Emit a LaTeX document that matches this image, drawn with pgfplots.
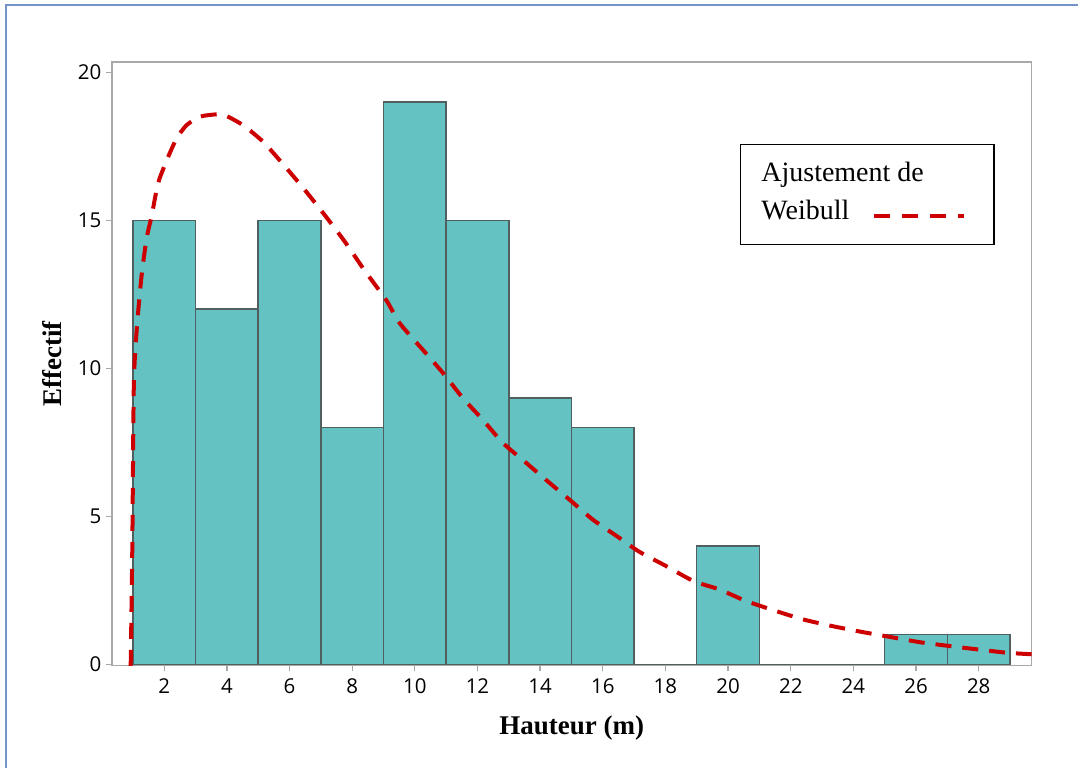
\documentclass[border=0pt]{standalone}
\usepackage{pgfplots}
\pgfplotsset{compat=1.18}
\usepackage{fontspec}
\setmainfont{Liberation Serif}
\newfontfamily\tickfont{Open Sans}
\definecolor{barfill}{RGB}{100,194,194}
\definecolor{baredge}{RGB}{80,95,95}
\definecolor{axgray}{RGB}{168,168,168}
\definecolor{fitred}{RGB}{204,0,0}
\definecolor{framebl}{RGB}{114,148,200}
\begin{document}
\begin{tikzpicture}[x=1pt,y=1pt]
\path (0,0) rectangle (1079,769);
\draw[framebl, line width=2.2pt] (6,0) -- (6,764) -- (1079,764);
\begin{axis}[
  at={(112pt,103pt)}, anchor=south west,
  scale only axis, width=920.7pt, height=604pt,
  xmin=0.33, xmax=29.69, ymin=-0.034, ymax=20.35,
  xtick={2,4,...,28}, ytick={0,5,10,15,20},
  tick align=outside, major tick length=6pt,
  xtick pos=bottom, ytick pos=left,
  axis line style={axgray, line width=1.3pt},
  tick style={axgray, line width=1.3pt},
  /pgf/number format/assume math mode=true,
  ticklabel style={font=\tickfont\fontsize{20.5}{20.5}\selectfont, black},
  xticklabel style={yshift=-4pt},
  yticklabel style={xshift=-1pt},
  xlabel={\textbf{Hauteur (m)}},
  ylabel={\textbf{Effectif}},
  label style={font=\fontsize{27}{27}\selectfont},
  xlabel style={at={(rel axis cs:0.5,-0.1142)}, anchor=base},
  ylabel style={at={(rel axis cs:-0.0546,0.5)}, anchor=base, rotate=0},
  clip=true,
]
\addplot[ybar, bar width=2, bar shift=0pt, fill=barfill, draw=baredge, line width=1.4pt]
  coordinates {(2,15) (4,12) (6,15) (8,8) (10,19) (12,15) (14,9) (16,8)
               (18,0) (20,4) (22,0) (24,0) (26,1) (28,1)};
\addplot[fitred, line width=4pt, dash pattern=on 16pt off 11pt, smooth, tension=0.4]
  coordinates {(0.93,-0.05) (0.98,3.78) (1.03,9.40) (1.12,11.28) (1.28,13.15)
   (1.44,14.40) (1.60,15.15) (1.81,16.27) (2.13,17.15) (2.40,17.77) (2.71,18.21)
   (3.14,18.50) (3.67,18.58) (3.94,18.55) (4.52,18.21) (5.16,17.65) (5.79,16.90)
   (6.43,16.10) (7.07,15.25) (7.75,14.30) (8.40,13.30) (9.09,12.30) (9.52,11.52)
   (10.26,10.62) (10.90,9.84) (11.53,9.00) (12.17,8.26) (12.81,7.48) (13.56,6.80)
   (14.30,6.13) (14.94,5.56) (15.68,4.89) (16.53,4.27) (17.17,3.80) (18.02,3.32)
   (18.90,2.81) (19.72,2.53) (20.57,2.14) (21.53,1.80) (22.38,1.52) (23.33,1.29)
   (24.29,1.09) (25.14,0.93) (26.10,0.75) (27.05,0.62) (27.91,0.51) (28.91,0.39)
   (29.69,0.34)};
\end{axis}
\draw[black, line width=1.2pt] (741,524) rectangle (995,624);
\node[anchor=base west, inner sep=0pt, font=\fontsize{28}{28}\selectfont] at (762,587.3) {Ajustement de};
\node[anchor=base west, inner sep=0pt, font=\fontsize{28}{28}\selectfont] at (762,549) {Weibull};
\draw[fitred, line width=4.5pt, dash pattern=on 16pt off 12pt] (875,553) -- (965,553);
\end{tikzpicture}
\end{document}
